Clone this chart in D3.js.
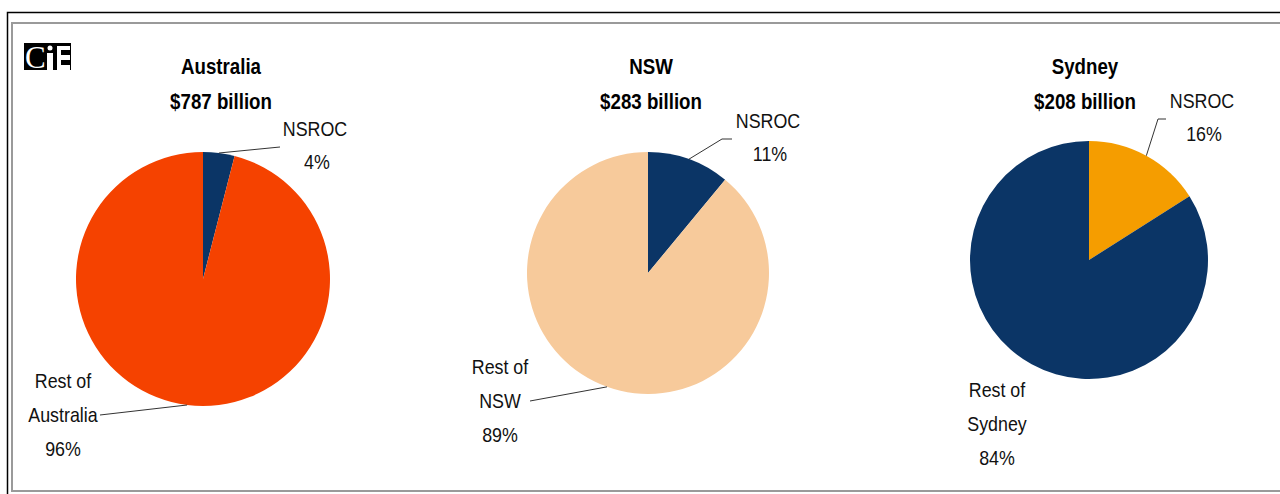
<!DOCTYPE html>
<html>
<head>
<meta charset="utf-8">
<script src="https://cdn.jsdelivr.net/npm/d3@7"></script>
<style>
  body { margin: 0; background: #fff; }
  svg { display: block; }
  .lbl { font-family: "Liberation Sans Narrow", "Liberation Sans", Arial, sans-serif; font-size: 21px; fill: #111; }
  .ttl { font-family: "Liberation Sans Narrow", "Liberation Sans", Arial, sans-serif; font-size: 22px; font-weight: bold; fill: #000; }
</style>
</head>
<body>
<div id="chart"></div>
<script>
// Data
const regions = ["Australia", "NSW", "Sydney"];
const totals = ["$787 billion", "$283 billion", "$208 billion"];
const nsrocShare = [4, 11, 16];
const restShare = [96, 89, 84];
const restLabels = [["Rest of", "Australia"], ["Rest of", "NSW"], ["Rest of", "Sydney"]];
const nsrocColors = ["#0b3566", "#0b3566", "#f59d00"];
const restColors = ["#f54200", "#f7ca9b", "#0b3566"];

const width = 1280, height = 494;
const squeeze = 0.85; // fake a narrow font

// layout of each pie (center, radius, label spots)
const layout = [
    { cx: 203, cy: 279, r: 127, title: 221, nsroc: [315, 128], elbow: [280, 147], rest: [63, 380], restLine: [100, 415] },
    { cx: 648, cy: 273, r: 121, title: 651, nsroc: [768, 120], elbow: [722, 139, 732], rest: [500, 366], restLine: [530, 401] },
    { cx: 1089, cy: 260, r: 119, title: 1085, nsroc: [1202, 100], elbow: [1158, 119, 1166], rest: [997, 389], restLine: null }
];

const svg = d3.select("#chart").append("svg")
    .attr("width", width)
    .attr("height", height);

function addText(g, cls, x, y, t) {
    return g.append("text").attr("class", cls)
        .attr("transform", `translate(${x},${y}) scale(${squeeze},1)`)
        .attr("text-anchor", "middle")
        .text(t);
}

// frame
svg.append("path")
    .attr("d", "M7.5,494 V12.5 H1280")
    .attr("fill", "none")
    .attr("stroke", "#000")
    .attr("stroke-width", 1.5);
svg.append("rect")
    .attr("x", 12).attr("y", 23)
    .attr("width", 1300).attr("height", 468)
    .attr("fill", "none")
    .attr("stroke", "#9a9a9a")
    .attr("stroke-width", 2);

// CIE logo
const logo = svg.append("g").attr("transform", "translate(24,43)");
logo.append("rect").attr("width", 47).attr("height", 27).attr("fill", "#000");
logo.append("text")
    .attr("x", 1).attr("y", 25)
    .attr("font-family", "Liberation Serif, serif")
    .attr("font-size", 31)
    .attr("fill", "#fff")
    .text("C");
logo.append("circle").attr("cx", 26).attr("cy", 5).attr("r", 2.5).attr("fill", "#fff");
logo.append("rect").attr("x", 23).attr("y", 10).attr("width", 6).attr("height", 17).attr("fill", "#fff");
logo.append("rect").attr("x", 33).attr("y", 3).attr("width", 13).attr("height", 24).attr("fill", "#fff");
logo.append("rect").attr("x", 37).attr("y", 7).attr("width", 9).attr("height", 5).attr("fill", "#000");
logo.append("rect").attr("x", 37).attr("y", 17).attr("width", 9).attr("height", 5).attr("fill", "#000");

const pie = d3.pie().sort(null).value(d => d.value);
const arc = d3.arc().innerRadius(0);

regions.forEach((name, i) => {
    const L = layout[i];
    const g = svg.append("g");
    const slices = pie([
        { key: "NSROC", value: nsrocShare[i], color: nsrocColors[i] },
        { key: "Rest", value: restShare[i], color: restColors[i] }
    ]);

    g.append("g")
        .attr("transform", `translate(${L.cx},${L.cy})`)
        .selectAll("path")
        .data(slices)
        .enter()
        .append("path")
        .attr("d", d => arc.outerRadius(L.r)(d))
        .attr("fill", d => d.data.color);

    // titles
    addText(g, "ttl", L.title, 74, name);
    addText(g, "ttl", L.title, 109, totals[i]);

    // point on the rim at the middle of a slice
    const rim = d => {
        const a = (d.startAngle + d.endAngle) / 2;
        return [L.cx + L.r * Math.sin(a), L.cy - L.r * Math.cos(a)];
    };

    // NSROC label + leader
    const pts = [rim(slices[0]), [L.elbow[0], L.elbow[1]]];
    if (L.elbow.length > 2) pts.push([L.elbow[2], L.elbow[1]]);
    g.append("path")
        .attr("d", d3.line()(pts))
        .attr("fill", "none")
        .attr("stroke", "#333")
        .attr("stroke-width", 1);
    addText(g, "lbl", L.nsroc[0], L.nsroc[1] + 8, "NSROC");
    addText(g, "lbl", L.nsroc[0] + 2, L.nsroc[1] + 41, nsrocShare[i] + "%");

    // Rest label + leader
    if (L.restLine) {
        g.append("path")
            .attr("d", d3.line()([L.restLine, rim(slices[1])]))
            .attr("fill", "none")
            .attr("stroke", "#333")
            .attr("stroke-width", 1);
    }
    restLabels[i].concat([restShare[i] + "%"]).forEach((t, j) => {
        addText(g, "lbl", L.rest[0], L.rest[1] + 8 + j * 34, t);
    });
});
</script>
</body>
</html>
